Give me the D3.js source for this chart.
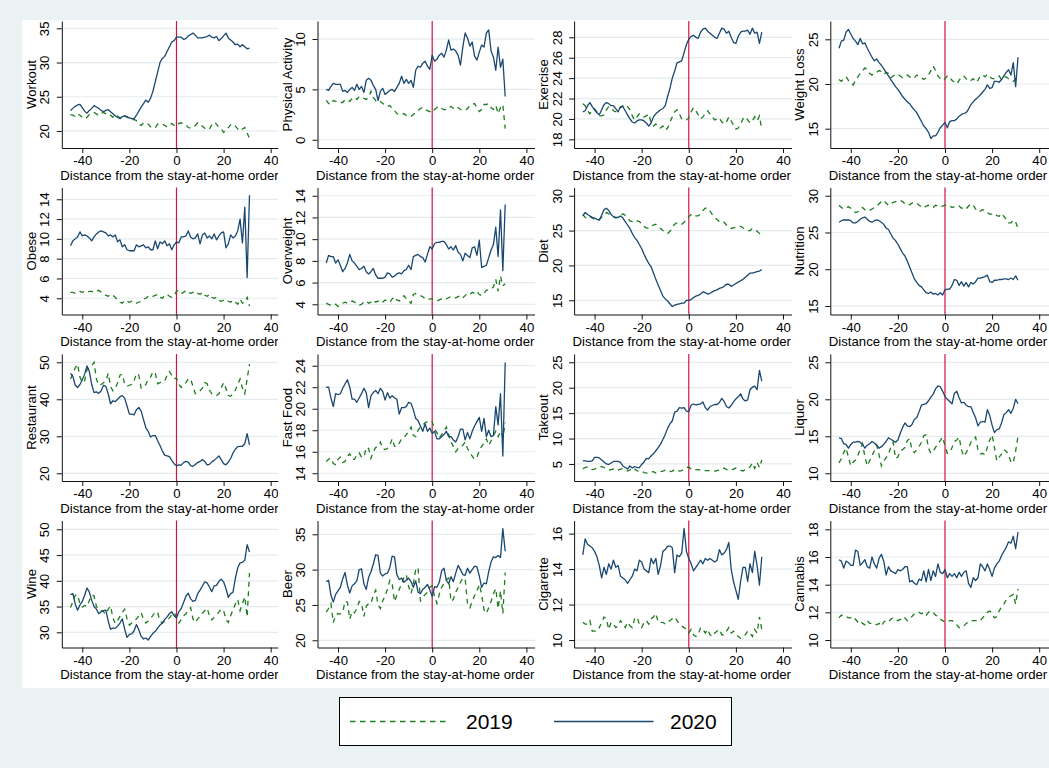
<!DOCTYPE html>
<html><head><meta charset="utf-8">
<script src="https://cdn.jsdelivr.net/npm/d3@7"></script>
<style>
body{margin:0;background:#eaf2f3;}
svg{display:block;font-family:"Liberation Sans",Arial,Helvetica,sans-serif;}
</style>
</head><body>
<svg id="chart" width="1049" height="768"></svg>
<script>
// ---------------- DATA ----------------
const days = d3.range(-45, 32); // -45 .. 31
const panelNames = ["Workout","Physical Activity","Exercise","Weight Loss",
  "Obese","Overweight","Diet","Nutrition",
  "Restaurant","Fast Food","Takeout","Liquor",
  "Wine","Beer","Cigarette","Cannabis"];
const xTitle = "Distance from the stay-at-home order";
const xTicks = [-40,-20,0,20,40];
const legendLabels = ["2019","2020"];

const yTicks = [
  [20,25,30,35],[0,5,10],[18,20,22,24,26,28],[15,20,25],
  [4,6,8,10,12,14],[4,6,8,10,12,14],[15,20,25,30],[15,20,25,30],
  [20,30,40,50],[14,16,18,20,22,24],[5,10,15,20,25],[10,15,20,25],
  [30,35,40,45,50],[20,25,30,35],[10,12,14,16],[10,12,14,16,18]
];
const yRanges = [
  [17.51,36.07],[-0.82,11.79],[17.15,29.6],[12.84,27.05],
  [2.36,15.19],[3.06,14.76],[12.96,31.18],[13.84,31.12],
  [17.92,52.24],[13.28,25.09],[1.65,26.63],[8.96,26.12],
  [27.05,51.71],[18.98,36.95],[9.58,16.74],[9.46,18.64]
];

const workout2020 = [23.0,23.3,23.6,23.8,23.9,23.4,22.9,22.6,23.0,23.3,
 23.7,23.5,23.3,23.0,22.8,23.0,23.1,22.8,22.5,22.2,
 22.0,21.8,22.1,22.2,22.1,21.9,21.8,21.8,22.3,22.9,
 23.5,24.0,24.5,24.2,24.8,25.8,27.2,28.6,30.0,30.6,
 30.9,31.6,32.3,33.0,33.2,33.7,33.7,33.7,33.4,33.5,
 33.9,34.1,34.3,34.0,33.6,33.6,33.6,33.7,33.8,34.0,
 33.7,33.6,33.8,33.2,33.5,33.9,34.3,33.6,33.3,33.0,
 32.6,32.7,32.3,32.6,32.3,32.0,32.1];
const workout2019 = [22.4,22.3,22.1,22.5,22.3,22.0,21.8,22.0,22.4,22.6,
 22.7,22.5,22.3,22.6,22.7,22.5,22.2,22.3,22.0,22.4,
 22.2,21.9,21.8,22.2,22.0,21.9,21.6,21.7,21.5,21.0,
 20.8,21.2,21.1,21.0,20.6,20.4,20.5,21.0,21.1,21.0,
 20.8,20.6,20.9,21.1,20.8,20.7,21.1,21.2,21.0,20.9,
 20.5,20.4,20.6,20.8,21.2,21.0,20.7,20.4,20.2,20.3,
 20.9,21.3,21.0,20.5,20.3,19.8,20.0,20.5,20.9,21.0,
 20.7,20.3,20.0,20.3,20.5,19.7,18.9];

const physical2020 = [5.0,4.9,5.3,5.6,5.5,5.5,5.5,4.8,4.9,4.7,
 5.0,5.2,4.9,5.5,5.0,5.3,4.7,5.9,6.1,5.9,
 5.4,5.0,3.9,4.8,5.1,4.5,4.7,4.9,5.0,4.8,
 5.2,5.6,6.3,5.6,6.0,5.6,5.9,5.2,6.9,7.3,
 7.2,7.6,7.8,7.3,7.0,8.4,7.8,8.0,8.4,8.6,
 8.2,8.9,9.9,8.9,9.0,8.8,8.4,7.4,9.2,10.6,
 10.1,9.3,9.7,8.3,7.9,8.7,9.4,9.2,10.6,10.9,
 8.8,8.2,6.9,9.2,7.2,8.0,4.3];
const physical2019 = [3.9,3.6,3.5,3.9,3.8,3.8,3.7,3.7,4.0,3.9,
 3.8,4.1,4.2,4.0,4.3,4.2,4.1,4.0,4.2,4.8,
 4.2,3.9,3.7,3.8,3.6,3.5,3.3,3.4,3.1,2.9,
 2.6,2.5,2.5,2.6,2.4,2.4,2.3,2.5,2.7,2.9,
 3.1,3.2,3.0,2.9,2.8,2.7,3.0,3.2,3.3,3.1,
 3.0,3.0,3.2,3.3,3.1,3.0,3.2,3.0,2.9,2.9,
 3.1,3.4,3.5,3.6,3.2,2.8,3.0,3.5,3.5,3.6,
 3.2,3.0,3.4,2.6,3.2,3.5,1.1];

const exercise2020 = [20.7,20.8,21.3,21.6,21.2,20.9,20.6,20.4,20.9,21.4,
 21.6,21.5,21.3,21.3,21.0,20.7,21.2,21.2,20.8,20.4,
 20.0,19.7,19.6,19.8,19.9,19.9,19.8,19.6,19.3,19.6,
 20.2,20.5,20.7,20.9,21.0,21.3,22.2,23.0,24.0,24.7,
 25.5,25.6,25.7,26.5,27.3,27.8,28.1,28.2,28.0,27.9,
 28.5,28.8,28.9,28.6,28.4,28.2,28.0,27.9,28.4,28.9,
 28.8,28.4,28.6,28.0,27.5,27.4,28.1,28.5,28.6,28.6,
 28.7,28.3,28.9,28.4,28.5,27.4,28.5];
const exercise2019 = [21.5,21.3,20.8,20.5,20.9,21.0,20.7,20.3,20.3,20.4,
 20.9,21.2,21.1,20.8,20.7,21.0,21.1,21.3,21.4,21.2,
 20.9,20.3,19.9,20.2,20.5,20.4,20.2,20.3,20.5,19.6,
 19.3,19.5,19.2,19.1,19.3,18.9,19.1,19.7,20.2,20.7,
 20.9,20.5,20.0,19.9,19.9,20.1,20.7,21.1,20.8,20.4,
 20.0,20.2,20.5,20.8,20.5,20.2,19.9,20.0,20.1,19.7,
 19.5,19.7,20.2,19.8,19.4,19.0,19.1,19.5,20.0,20.2,
 19.9,19.6,19.8,20.2,19.8,20.3,18.9];

const weightloss2020 = [24.0,24.8,24.9,25.8,26.1,25.6,25.1,24.8,24.4,25.1,
 24.5,24.6,24.0,23.5,23.0,22.6,22.8,22.4,22.1,21.7,
 21.3,20.9,20.5,20.1,19.7,19.4,19.0,18.6,18.3,18.0,
 17.8,17.4,17.1,16.8,16.3,15.8,15.3,15.0,14.6,13.9,
 14.2,14.2,14.6,15.1,15.4,15.7,15.1,15.8,15.9,15.9,
 16.1,16.4,16.6,16.7,16.8,17.2,17.7,18.0,18.3,18.5,
 18.8,19.1,19.4,19.9,19.5,19.6,20.3,20.3,20.2,20.5,
 20.9,21.3,21.6,21.0,22.4,19.7,23.0];
const weightloss2019 = [20.5,20.3,20.6,20.8,20.4,20.1,19.9,20.4,20.8,21.2,
 21.5,21.8,21.6,21.2,21.0,21.2,21.3,21.5,21.4,21.1,
 21.3,21.2,20.7,20.9,21.1,21.1,20.9,20.7,20.8,21.0,
 20.8,20.6,20.7,21.0,20.8,20.7,20.5,20.7,21.0,21.5,
 22.0,21.5,20.9,20.6,20.4,20.6,20.9,20.8,20.4,20.2,
 20.0,20.4,20.8,20.9,20.6,20.3,20.4,20.6,20.2,20.4,
 20.9,21.0,20.8,21.1,20.8,20.6,20.6,20.7,20.9,20.5,
 20.8,20.8,20.6,20.5,20.3,20.6,20.2];

const obese2020 = [9.3,9.8,10.0,10.2,10.7,10.3,10.4,10.3,10.1,9.8,
 10.2,10.5,10.7,10.8,10.7,10.6,10.3,10.4,10.2,10.4,
 9.7,9.9,9.2,9.4,8.9,8.8,8.8,8.8,9.4,9.2,
 9.3,9.4,9.1,9.2,8.9,8.9,9.8,9.0,9.7,9.5,
 9.8,9.3,9.5,8.9,9.4,9.7,9.6,10.2,10.2,10.3,
 10.8,10.2,10.0,10.1,10.5,9.5,10.4,10.6,10.1,10.3,
 10.0,10.5,9.9,10.3,10.6,10.7,9.1,9.5,10.4,10.1,
 10.3,10.8,12.0,9.6,13.2,6.1,14.4];
const obese2019 = [4.6,4.6,4.5,4.6,4.7,4.6,4.7,4.6,4.7,4.7,
 4.6,4.7,4.8,4.6,4.4,4.3,4.2,4.4,4.3,4.1,
 3.8,3.6,3.5,3.8,3.7,3.6,3.7,3.5,3.5,3.6,
 3.7,3.9,4.0,4.2,4.3,4.2,4.3,4.4,4.1,4.0,
 4.3,4.4,4.2,4.1,4.3,4.7,4.8,4.5,4.6,4.8,
 4.6,4.5,4.6,4.7,4.5,4.4,4.6,4.3,4.2,4.4,
 4.1,4.0,4.1,3.8,3.7,3.8,3.9,3.7,3.6,3.8,
 3.6,3.4,3.9,3.5,3.6,4.1,3.2];

const overweight2020 = [7.8,8.5,8.4,8.4,7.8,8.1,7.6,7.0,7.3,7.8,
 8.6,8.0,7.8,7.5,7.2,7.3,7.5,7.0,6.8,7.0,
 7.3,6.7,6.4,6.4,6.4,6.5,6.9,6.8,6.5,6.6,
 6.8,6.9,6.8,7.1,7.2,7.6,7.2,8.4,8.5,8.6,
 8.4,8.3,7.9,8.6,9.3,9.1,9.6,9.7,9.7,9.8,
 9.8,9.5,9.1,9.3,9.0,9.4,8.8,8.6,8.0,8.7,
 8.5,8.3,9.2,9.3,8.5,9.9,7.4,7.5,7.6,8.3,
 9.0,9.5,11.1,8.4,12.7,7.1,13.2];
const overweight2019 = [4.1,4.0,3.9,3.9,4.0,3.8,3.9,4.1,4.2,4.1,
 4.2,4.3,4.2,4.1,3.9,4.0,4.2,4.3,4.1,4.2,
 4.4,4.2,4.3,4.1,4.2,4.4,4.3,4.2,4.5,4.7,
 4.4,4.3,4.6,4.8,4.5,4.3,4.1,4.9,5.0,4.9,
 4.8,4.7,4.5,4.4,4.5,4.5,4.4,4.3,4.4,4.5,
 4.6,4.5,4.6,4.7,4.6,4.6,4.7,4.8,4.6,4.8,
 5.0,4.9,5.1,5.0,5.2,4.9,4.8,5.0,5.3,5.3,
 5.4,5.6,6.3,5.2,6.6,5.7,5.9];

const diet2020 = [27.1,27.6,27.3,27.1,26.9,26.8,26.6,26.5,27.2,28.0,
 28.2,27.9,27.3,27.0,26.9,26.9,27.1,26.8,26.3,25.8,
 25.3,24.6,24.0,23.6,23.0,22.4,21.6,20.9,20.3,19.8,
 18.9,18.0,17.2,16.4,15.6,15.2,14.9,14.5,14.1,14.3,
 14.4,14.5,14.6,14.6,15.0,15.0,15.1,15.4,15.6,15.7,
 15.9,16.2,16.1,15.9,16.0,16.2,16.4,16.5,16.7,16.8,
 17.0,17.3,17.3,17.0,17.2,17.4,17.6,17.8,18.0,18.3,
 18.6,18.9,18.9,19.0,19.1,19.2,19.4];
const diet2019 = [27.3,26.9,26.7,27.0,26.8,26.6,26.5,26.6,26.9,27.3,
 27.6,27.4,27.2,27.0,26.8,26.9,27.1,27.4,27.2,26.8,
 26.4,26.3,26.5,26.4,26.3,26.0,25.6,25.4,25.3,25.6,
 25.8,25.9,25.6,25.3,25.0,24.8,24.6,24.9,25.5,25.9,
 26.1,26.0,25.9,26.2,26.6,27.0,27.3,27.4,27.1,27.1,
 27.4,27.9,28.2,28.2,27.8,27.3,26.9,26.6,26.3,26.4,
 26.2,25.8,25.5,25.3,25.4,25.5,25.6,25.6,25.4,25.2,
 25.0,25.0,25.3,25.1,24.9,24.6,24.0];

const nutrition2020 = [26.4,26.6,26.7,26.7,26.7,26.6,26.3,26.3,26.5,26.8,
 27.0,27.1,26.8,26.5,26.4,26.6,26.7,26.6,26.4,26.1,
 25.6,25.4,24.8,24.2,23.9,23.4,22.8,22.2,21.8,21.1,
 20.3,19.5,18.7,18.2,17.8,17.6,17.2,16.8,16.7,16.9,
 16.6,16.7,16.5,16.8,16.5,17.2,17.3,17.3,17.8,18.6,
 18.5,17.8,18.3,17.7,18.2,17.6,18.2,18.0,18.3,18.8,
 18.8,18.9,19.0,19.2,18.3,18.2,18.5,18.5,18.6,18.6,
 18.7,18.7,18.6,18.8,18.6,19.1,18.5];
const nutrition2019 = [28.7,28.4,28.2,28.4,28.5,28.3,28.0,27.7,27.8,28.2,
 28.4,28.1,27.9,28.0,28.2,28.4,28.6,28.9,29.2,29.4,
 29.0,28.7,28.9,29.1,29.2,29.3,29.4,29.2,28.9,28.7,
 28.8,29.0,29.1,29.0,28.7,28.5,28.3,28.6,28.7,28.5,
 28.4,28.7,28.6,28.5,28.6,28.7,28.8,28.6,28.4,28.5,
 28.7,28.6,28.3,28.4,28.2,28.6,28.9,28.7,28.2,27.8,
 27.9,28.1,28.0,27.7,27.5,27.5,27.6,27.3,27.2,27.6,
 27.2,26.8,26.3,26.3,26.7,26.4,25.6];

const restaurant2020 = [47.0,46.2,43.8,43.2,44.0,45.2,46.8,49.0,47.5,44.0,
 41.8,42.0,41.6,42.3,43.8,43.5,41.5,38.8,39.6,39.4,
 40.0,40.7,41.0,40.3,38.2,36.0,36.0,35.8,37.2,37.8,
 36.8,34.5,32.3,31.3,29.8,30.2,30.2,28.8,27.5,26.0,
 24.9,24.7,24.5,23.5,22.6,22.0,22.3,22.2,22.9,23.2,
 23.0,22.1,21.9,22.4,22.9,23.2,23.7,23.2,22.3,22.4,
 23.1,23.5,24.1,24.7,23.7,22.6,22.3,23.0,24.0,25.5,
 26.5,27.2,27.3,27.3,28.0,30.7,27.7];
const restaurant2019 = [45.5,47.0,48.5,49.5,46.0,44.5,45.0,48.0,48.5,49.0,
 50.0,45.5,43.8,44.0,44.5,45.0,47.0,43.5,42.3,43.0,
 44.5,46.5,46.8,44.0,43.5,43.8,44.0,45.0,47.0,46.5,
 43.0,43.5,44.0,45.5,46.0,47.5,47.0,44.2,44.5,44.8,
 45.0,46.5,47.5,46.5,45.5,45.8,44.0,43.2,43.8,44.5,
 45.5,45.5,43.5,41.5,42.0,42.3,43.0,44.5,44.2,42.5,
 41.5,41.2,41.0,41.5,43.0,44.5,43.0,41.0,40.8,41.5,
 42.5,44.0,45.5,43.0,41.5,45.5,49.5];

const fastfood2020 = [22.0,22.0,21.0,20.2,21.4,21.3,21.4,21.9,22.3,22.7,
 22.0,20.9,20.9,20.6,21.0,21.4,21.9,21.5,20.1,21.2,
 21.5,21.7,21.4,21.9,21.6,20.8,21.5,21.0,21.2,21.0,
 20.9,19.5,20.1,20.1,20.2,20.6,20.5,19.9,19.1,18.9,
 18.4,17.9,18.6,17.9,18.2,17.7,17.9,17.2,17.2,17.4,
 17.6,17.9,17.4,17.4,17.1,16.9,17.4,18.1,18.1,17.1,
 17.8,17.2,17.9,18.4,18.8,19.2,17.9,19.1,17.4,18.0,
 17.4,17.5,20.2,18.5,21.4,15.6,24.3];
const fastfood2019 = [15.1,15.3,15.4,14.9,14.8,15.3,15.5,15.0,15.1,15.6,
 15.8,15.3,15.3,15.7,15.9,15.5,15.5,16.4,16.3,15.4,
 16.0,16.4,16.5,16.9,16.3,16.2,16.3,16.6,17.2,16.5,
 16.5,16.8,17.2,17.3,17.6,17.9,18.3,17.5,17.4,18.0,
 18.3,18.5,18.7,18.8,18.9,18.8,18.1,17.8,17.3,17.6,
 17.9,18.3,17.6,16.9,16.5,16.0,16.3,16.4,16.6,16.9,
 16.3,15.9,15.6,15.3,15.5,16.1,16.5,16.8,17.2,16.6,
 17.0,17.5,17.9,17.4,17.9,17.3,18.7];

const takeout2020 = [5.6,5.6,5.5,5.5,5.6,6.3,6.3,6.2,5.8,5.4,
 5.0,4.9,5.2,5.5,5.5,5.5,5.3,4.6,4.3,4.0,
 4.6,4.2,4.5,4.3,4.3,4.9,5.4,6.1,6.0,6.6,
 7.0,7.6,8.2,8.9,9.8,10.8,12.0,12.9,13.5,15.2,
 15.4,16.1,16.0,16.1,15.4,15.3,16.6,16.8,16.6,16.7,
 16.8,17.2,16.1,15.6,16.3,16.5,16.7,16.7,17.1,17.9,
 17.3,16.3,16.0,16.5,17.2,17.8,18.2,18.8,17.8,17.4,
 17.6,19.6,20.1,20.3,19.6,23.4,21.3];
const takeout2019 = [4.1,4.3,4.4,4.2,3.9,4.0,4.2,4.4,4.5,4.3,
 4.0,3.8,3.9,4.0,3.7,3.8,4.0,4.1,3.9,3.6,
 3.8,4.3,4.0,3.7,3.5,3.6,3.3,3.2,3.3,3.4,
 3.5,3.2,3.4,3.5,3.6,3.8,3.7,3.5,3.6,3.9,
 3.8,3.6,3.7,4.0,4.3,4.4,4.0,3.8,3.9,3.9,
 3.8,3.7,3.7,3.7,3.7,3.6,3.6,3.7,3.8,4.0,
 4.2,3.9,3.7,3.8,4.0,4.2,4.1,3.8,3.6,3.9,
 4.2,4.4,5.2,4.1,5.3,4.3,5.8];

const liquor2020 = [14.8,14.7,14.0,13.9,13.4,13.9,14.2,14.2,14.3,14.2,
 13.9,13.4,13.8,14.0,14.3,14.1,13.8,13.4,13.6,13.9,
 14.3,14.8,14.6,14.4,14.2,14.5,15.4,16.2,16.8,16.4,
 16.3,16.6,17.3,17.5,18.3,19.2,19.3,19.4,19.8,20.3,
 20.7,21.4,21.8,21.7,21.1,20.4,20.0,19.7,19.4,20.8,
 21.1,20.2,19.5,19.6,19.2,19.0,19.0,18.2,17.5,16.4,
 16.9,17.0,16.9,18.6,17.8,16.5,15.5,15.9,16.0,16.8,
 17.9,18.2,18.6,18.1,18.8,20.0,19.4];
const liquor2019 = [11.4,12.0,12.8,13.4,12.2,11.0,11.5,11.8,12.4,13.2,
 14.0,12.2,11.0,11.7,12.4,13.0,13.8,12.5,11.0,11.7,
 12.1,12.6,13.5,14.2,12.0,12.2,13.0,13.2,13.5,14.4,
 14.7,13.1,12.8,13.2,13.6,14.2,15.1,15.2,13.4,12.7,
 13.0,13.5,14.0,14.4,14.9,13.7,12.7,12.8,13.5,14.3,
 14.5,14.9,13.2,12.3,12.8,13.4,14.2,14.6,14.9,13.2,
 12.6,12.7,12.5,13.5,14.5,15.2,13.5,11.7,12.2,12.6,
 13.2,13.0,12.5,11.5,11.4,13.0,15.0];

const wine2020 = [37.3,37.5,35.5,34.3,35.3,36.0,37.2,38.6,37.8,36.2,
 35.0,34.5,33.6,34.0,34.2,34.3,32.2,30.6,30.8,30.8,
 31.2,31.8,32.6,30.6,29.0,29.6,29.7,30.3,31.5,30.5,
 29.2,28.7,28.9,28.5,29.2,29.8,30.2,30.8,31.4,31.8,
 32.5,33.0,33.6,34.0,33.2,32.8,34.0,34.6,35.8,37.0,
 37.6,36.5,36.0,36.2,37.5,38.2,39.0,39.8,39.6,38.8,
 37.9,39.0,39.1,39.9,40.3,39.8,38.5,36.8,37.5,37.8,
 40.5,42.5,43.5,43.6,44.0,47.0,45.6];
const wine2019 = [34.8,36.0,37.2,37.3,35.5,34.9,35.2,35.0,36.2,37.2,
 37.1,35.0,34.4,34.2,34.0,33.5,34.5,35.1,32.8,31.7,
 32.3,33.1,33.9,34.5,32.6,31.4,31.8,32.1,32.6,33.2,
 33.8,32.5,31.8,32.2,32.7,33.3,34.0,33.8,32.2,31.8,
 32.2,32.4,32.8,33.4,33.8,32.9,31.8,32.5,33.2,33.6,
 34.2,34.8,32.6,31.9,32.6,33.1,33.7,34.2,34.7,33.2,
 32.4,32.9,33.3,33.9,34.5,34.2,32.5,31.9,33.2,34.4,
 35.5,36.4,34.2,35.6,36.9,33.0,41.5];

const beer2020 = [28.3,28.5,26.4,25.4,26.5,27.0,27.5,28.7,29.6,27.8,
 26.7,27.7,28.0,28.4,30.0,30.1,28.0,27.2,28.9,29.7,
 30.8,32.1,32.0,29.5,29.1,29.4,29.5,30.3,31.9,31.8,
 29.3,28.6,28.8,28.2,28.5,28.8,28.3,27.5,28.4,26.8,
 26.6,27.2,27.5,27.9,27.1,26.2,27.6,27.5,28.2,29.8,
 30.2,28.5,28.0,29.0,28.3,29.5,30.6,30.0,29.3,29.2,
 30.2,29.5,30.0,30.5,30.4,29.1,27.5,28.1,28.0,29.7,
 31.1,31.8,31.7,32.0,31.7,35.8,32.6];
const beer2019 = [24.0,24.5,25.2,22.5,23.5,23.8,23.7,24.0,25.5,25.4,
 23.0,24.1,23.9,24.5,25.5,25.2,23.4,24.8,25.2,25.2,
 26.4,27.1,25.0,24.5,25.6,26.3,27.2,28.5,28.0,25.5,
 26.4,27.2,28.0,28.9,29.3,27.6,26.6,28.0,30.0,30.3,
 25.6,26.1,26.5,26.8,27.5,27.7,26.2,25.2,26.5,27.5,
 28.0,28.6,28.8,25.5,25.8,26.8,27.5,28.2,28.8,28.7,
 25.2,24.6,25.5,26.3,27.0,27.9,26.5,24.3,23.8,24.6,
 25.5,26.6,27.3,24.5,27.0,23.8,29.6];

const cigarette2020 = [14.8,15.7,15.4,15.3,15.2,15.0,14.7,14.2,13.5,14.1,
 13.7,14.3,14.0,14.5,14.1,14.2,13.6,13.5,13.4,13.2,
 13.4,13.6,14.0,13.9,14.5,14.4,14.0,13.9,13.8,14.6,
 14.3,14.6,13.7,14.2,15.0,15.1,15.3,15.3,15.2,13.8,
 14.8,14.7,14.9,16.3,15.0,14.6,14.3,13.9,14.1,14.3,
 14.5,14.3,14.6,14.5,14.6,14.5,14.4,14.5,15.1,14.8,
 14.9,15.1,15.5,14.0,13.3,12.8,12.3,13.3,14.1,14.1,
 13.3,14.3,13.8,15.0,14.2,13.1,14.7];
const cigarette2019 = [11.0,10.9,10.9,11.1,10.5,10.5,10.5,10.7,11.0,11.3,
 11.2,10.6,11.0,10.9,10.7,10.8,11.1,10.9,10.7,11.0,
 10.8,10.7,11.2,11.3,10.9,10.7,11.0,11.1,10.9,11.2,
 11.3,11.5,11.0,11.0,11.0,10.9,11.0,11.1,11.2,11.3,
 11.1,10.9,10.8,10.7,10.6,10.4,10.6,10.3,10.2,10.3,
 10.7,10.6,10.4,10.6,10.3,10.2,10.4,10.5,10.6,10.3,
 10.3,10.5,10.7,10.4,10.5,10.3,10.2,10.1,10.2,10.3,
 10.5,10.4,10.2,10.6,10.4,11.3,10.6];

const cannabis2020 = [15.8,15.7,15.2,15.7,15.6,15.4,15.4,16.5,16.4,15.4,
 15.6,15.8,15.3,15.2,16.0,15.5,15.2,15.9,16.2,15.7,
 14.7,15.3,15.0,14.9,14.8,15.1,15.0,15.1,15.3,15.3,
 14.2,14.3,14.1,14.0,14.4,14.3,15.0,14.2,15.1,14.3,
 15.0,14.6,15.5,14.9,14.8,15.1,14.5,14.8,14.6,14.8,
 14.5,14.9,14.6,14.9,15.0,14.1,13.8,14.5,14.3,14.5,
 15.5,15.3,15.0,15.5,15.1,14.6,15.2,15.5,15.7,16.1,
 16.4,16.7,17.1,17.0,17.5,16.6,17.8];
const cannabis2019 = [11.6,11.8,11.7,11.7,11.6,11.6,11.7,11.5,11.3,11.4,
 11.2,11.1,11.4,11.2,11.2,11.2,11.1,11.2,11.0,11.3,
 11.4,11.3,11.5,11.6,11.5,11.4,11.5,11.4,11.6,11.4,
 11.6,11.7,11.9,12.0,12.0,11.9,12.0,11.8,12.0,12.1,
 12.0,11.8,11.7,11.5,11.4,11.3,11.3,11.4,11.4,11.3,
 11.1,10.9,10.9,11.0,11.2,11.3,11.4,11.4,11.4,11.4,
 11.4,11.6,11.8,12.0,12.1,11.9,11.6,11.7,12.1,12.4,
 12.6,12.9,13.1,13.2,13.3,12.6,13.7];

const series2020 = [workout2020, physical2020, exercise2020, weightloss2020,
  obese2020, overweight2020, diet2020, nutrition2020,
  restaurant2020, fastfood2020, takeout2020, liquor2020,
  wine2020, beer2020, cigarette2020, cannabis2020];
const series2019 = [workout2019, physical2019, exercise2019, weightloss2019,
  obese2019, overweight2019, diet2019, nutrition2019,
  restaurant2019, fastfood2019, takeout2019, liquor2019,
  wine2019, beer2019, cigarette2019, cannabis2019];

// ---------------- LAYOUT ----------------
const W = 1049, H = 768;
const colAxisX = [61.8, 317.5, 574.1, 830.3];
const colClipL = [22, 279, 536, 792.5];
const colClipR = [278.3, 535, 792, 1049];
const rowTop = [21, 187.5, 354, 520.5];
const plotH = 127;
const pxPerDay = 2.355, xStart = -48.7;
const C2020 = "#1a476f", C2019 = "#1e7b1e", CLINE = "#d01440", CGRID = "#e4ecee";
const FS = 13.2;

const svg = d3.select("#chart");
svg.append("rect").attr("width", W).attr("height", H).attr("fill", "#eaf2f3");
svg.append("rect").attr("x", 22).attr("y", 20).attr("width", W - 22).attr("height", 668).attr("fill", "#fff");

const defs = svg.append("defs");

panelNames.forEach((name, i) => {
  const r = Math.floor(i / 4), c = i % 4;
  const ax = colAxisX[c], top = rowTop[r], bottom = top + plotH;
  const clipId = "clip" + i;
  defs.append("clipPath").attr("id", clipId).append("rect")
    .attr("x", colClipL[c]).attr("y", top - 8)
    .attr("width", colClipR[c] - colClipL[c]).attr("height", 174);
  const g = svg.append("g").attr("clip-path", `url(#${clipId})`);

  const xR = colClipR[c] + 4;
  const x = d3.scaleLinear().domain([xStart, xStart + (xR - ax) / pxPerDay]).range([ax, xR]);
  const y = d3.scaleLinear().domain(yRanges[i]).range([bottom, top]);

  // grid
  g.append("g").selectAll("line").data(yTicks[i]).join("line")
    .attr("x1", ax).attr("x2", xR).attr("y1", d => y(d)).attr("y2", d => y(d))
    .attr("stroke", CGRID).attr("stroke-width", 1.2);

  // vertical line at 0
  g.append("line").attr("x1", x(0)).attr("x2", x(0)).attr("y1", top).attr("y2", bottom)
    .attr("stroke", CLINE).attr("stroke-width", 1.2);

  const line = d3.line().x((d, k) => x(days[k])).y(d => y(d));
  g.append("path").datum(series2019[i]).attr("d", line)
    .attr("fill", "none").attr("stroke", C2019).attr("stroke-width", 1.3)
    .attr("stroke-dasharray", "5,4.5");
  g.append("path").datum(series2020[i]).attr("d", line)
    .attr("fill", "none").attr("stroke", C2020).attr("stroke-width", 1.3)
    .attr("stroke-linejoin", "round");

  // y axis
  const ya = g.append("g").attr("transform", `translate(${ax},0)`)
    .call(d3.axisLeft(y).tickValues(yTicks[i]).tickSize(5).tickSizeOuter(0).tickFormat(d => String(d)));
  ya.attr("font-size", FS).attr("font-family", null).style("color", "#111");
  ya.selectAll("text").attr("x", 0).attr("dy", null).attr("text-anchor", "middle")
    .attr("transform", "translate(-12.5,0) rotate(-90)").attr("fill", "#000");

  // x axis
  const xa = g.append("g").attr("transform", `translate(0,${bottom})`)
    .call(d3.axisBottom(x).tickValues(xTicks).tickSize(5).tickSizeOuter(0).tickFormat(d => String(d)));
  xa.attr("font-size", FS).attr("font-family", null).style("color", "#111");
  xa.selectAll("text").attr("y", 17).attr("dy", null).attr("fill", "#000");

  // titles
  g.append("text").attr("transform", `translate(${ax - 26},${(top + bottom) / 2}) rotate(-90)`)
    .attr("text-anchor", "middle").attr("font-size", FS).attr("fill", "#000").text(name);
  g.append("text").attr("x", ax - 1.5).attr("y", bottom + 31.8)
    .attr("font-size", FS).attr("fill", "#000").text(xTitle);
});

// legend
const lg = svg.append("g");
lg.append("rect").attr("x", 339.5).attr("y", 697.5).attr("width", 392).attr("height", 48)
  .attr("fill", "#fff").attr("stroke", "#000").attr("stroke-width", 1);
const legendItems = [
  {label: legendLabels[0], color: C2019, dash: "5.5,4.5", x1: 350, x2: 449, tx: 466},
  {label: legendLabels[1], color: C2020, dash: null, x1: 554, x2: 653.5, tx: 670}
];
legendItems.forEach(it => {
  lg.append("line").attr("x1", it.x1).attr("x2", it.x2).attr("y1", 721.5).attr("y2", 721.5)
    .attr("stroke", it.color).attr("stroke-width", 1.4).attr("stroke-dasharray", it.dash);
  lg.append("text").attr("x", it.tx).attr("y", 729).attr("font-size", 21).attr("fill", "#000").text(it.label);
});
</script>
</body></html>
